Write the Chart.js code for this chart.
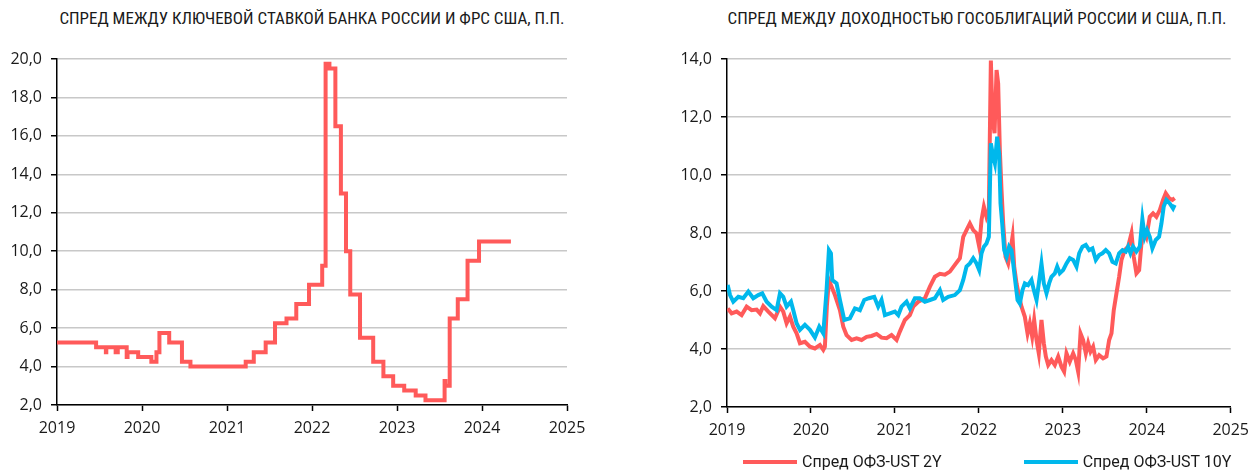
<!DOCTYPE html>
<html lang="ru">
<head>
<meta charset="utf-8">
<title>Спреды Россия - США</title>
<script src="https://cdn.jsdelivr.net/npm/chart.js@4.4.1/dist/chart.umd.min.js"></script>
<style>
  html, body { margin: 0; padding: 0; background: #fff; }
  body { width: 1257px; height: 473px; position: relative; overflow: hidden;
         font-family: "Open Sans", Roboto, sans-serif; color: #1a1a1a; }
  .box { position: absolute; top: 0; height: 473px; }
  #leftBox { left: 0; width: 620px; }
  #rightBox { left: 640px; width: 617px; }
  .title { position: absolute; top: 9px; font-size: 17px; line-height: 19px; white-space: nowrap;
           font-family: "Liberation Sans Narrow", "Roboto Condensed", Roboto, sans-serif;
           transform: translateX(-50%); }
  #leftTitle { left: 312px; }
  #rightTitle { left: 977px; }
  #legend { position: absolute; left: 743px; top: 452px; display: flex; gap: 82px;
            font-family: Roboto, sans-serif; font-size: 16px; line-height: 20px; }
  .item { display: flex; align-items: center; }
  .swatch { width: 54px; height: 4px; margin-right: 5px; }
</style>
</head>
<body>
<div id="leftTitle" class="title">СПРЕД МЕЖДУ КЛЮЧЕВОЙ СТАВКОЙ БАНКА РОССИИ И ФРС США, П.П.</div>
<div id="rightTitle" class="title">СПРЕД МЕЖДУ ДОХОДНОСТЬЮ ГОСОБЛИГАЦИЙ РОССИИ И США, П.П.</div>
<div id="leftBox" class="box"><canvas id="rateChart"></canvas></div>
<div id="rightBox" class="box"><canvas id="bondChart"></canvas></div>
<div id="legend"></div>

<script>
// ---- data ----
const yearTicks = [2019, 2020, 2021, 2022, 2023, 2024, 2025];

// key rate spread, change dates as fractions of a year
const rateDates = [2019.0, 2019.46, 2019.575, 2019.58, 2019.69, 2019.715, 2019.82, 2019.83, 2019.955,
  2020.11, 2020.17, 2020.205, 2020.32, 2020.47, 2020.57, 2021.22, 2021.315, 2021.455, 2021.565,
  2021.70, 2021.815, 2021.965, 2022.12, 2022.16, 2022.205, 2022.275, 2022.34, 2022.40, 2022.45,
  2022.565, 2022.72, 2022.84, 2022.955, 2023.085, 2023.22, 2023.335, 2023.56, 2023.57, 2023.62,
  2023.715, 2023.83, 2023.965, 2024.34];
const rateSpread = [5.25, 5.0, 4.75, 5.0, 4.75, 5.0, 4.5, 4.75, 4.5,
  4.25, 4.75, 5.75, 5.25, 4.25, 4.0, 4.25, 4.75, 5.25, 6.25,
  6.5, 7.25, 8.25, 9.25, 19.75, 19.5, 16.5, 13.0, 10.0, 7.75,
  5.5, 4.25, 3.5, 3.0, 2.75, 2.5, 2.25, 3.25, 3.0, 6.5,
  7.5, 9.5, 10.5, 10.5];

// OFZ - UST 2Y
const ofz2yDates = [2019.008, 2019.055, 2019.115, 2019.174, 2019.234, 2019.293, 2019.353, 2019.393, 2019.432,
  2019.492, 2019.571, 2019.631, 2019.670, 2019.710, 2019.750, 2019.789, 2019.829, 2019.869, 2019.928,
  2019.988, 2020.047, 2020.107, 2020.147, 2020.166, 2020.190, 2020.214, 2020.246, 2020.286, 2020.345,
  2020.385, 2020.424, 2020.484, 2020.544, 2020.603, 2020.663, 2020.722, 2020.782, 2020.841, 2020.901,
  2020.960, 2021.020, 2021.059, 2021.119, 2021.178, 2021.218, 2021.278, 2021.357, 2021.417, 2021.476,
  2021.536, 2021.595, 2021.655, 2021.714, 2021.774, 2021.814, 2021.853, 2021.893, 2021.933, 2021.972,
  2022.004, 2022.032, 2022.060, 2022.091, 2022.119, 2022.143, 2022.163, 2022.187, 2022.211, 2022.230,
  2022.250, 2022.270, 2022.290, 2022.318, 2022.349, 2022.377, 2022.401, 2022.421, 2022.449, 2022.480,
  2022.508, 2022.548, 2022.580, 2022.607, 2022.635, 2022.659, 2022.687, 2022.714, 2022.746, 2022.774,
  2022.798, 2022.826, 2022.865, 2022.905, 2022.945, 2022.984, 2023.016, 2023.044, 2023.083, 2023.123,
  2023.155, 2023.183, 2023.211, 2023.242, 2023.274, 2023.302, 2023.330, 2023.361, 2023.393, 2023.433,
  2023.480, 2023.520, 2023.552, 2023.580, 2023.607, 2023.639, 2023.671, 2023.699, 2023.738, 2023.778,
  2023.818, 2023.845, 2023.877, 2023.909, 2023.937, 2023.964, 2023.996, 2024.036, 2024.075, 2024.115,
  2024.155, 2024.194, 2024.226, 2024.266, 2024.306, 2024.333];
const ofz2y = [5.40, 5.23, 5.29, 5.17, 5.46, 5.34, 5.36, 5.23, 5.48,
  5.29, 5.06, 5.46, 5.29, 4.89, 5.12, 4.77, 4.54, 4.20, 4.25,
  4.08, 4.02, 4.14, 3.97, 4.08, 5.50, 6.38, 6.15, 5.86, 5.34,
  4.77, 4.48, 4.31, 4.37, 4.31, 4.42, 4.45, 4.52, 4.39, 4.37,
  4.48, 4.31, 4.60, 5.00, 5.17, 5.46, 5.63, 5.75, 6.15, 6.49,
  6.59, 6.56, 6.67, 6.90, 7.13, 7.87, 8.10, 8.33, 8.10, 7.99,
  7.53, 8.45, 8.91, 8.56, 8.79, 13.95, 12.00, 11.44, 13.62, 13.16,
  10.86, 9.48, 8.33, 7.18, 6.95, 7.41, 7.87, 6.84, 6.26, 5.80,
  5.46, 5.11, 4.54, 4.89, 4.43, 5.00, 4.31, 3.85, 5.00, 4.20,
  3.74, 3.45, 3.62, 3.45, 3.74, 3.39, 3.22, 3.85, 3.56, 3.85,
  3.62, 3.22, 4.54, 4.31, 3.85, 4.20, 3.91, 4.08, 3.62, 3.79,
  3.68, 3.74, 4.31, 4.54, 5.34, 5.92, 6.49, 7.07, 7.41, 7.53,
  7.99, 7.18, 6.61, 6.72, 7.64, 8.10, 7.87, 8.56, 8.68, 8.56,
  8.79, 9.14, 9.37, 9.20, 9.14, 9.20];

// OFZ - UST 10Y
const ofz10yDates = [2019.008, 2019.036, 2019.075, 2019.135, 2019.194, 2019.254, 2019.313, 2019.373, 2019.420,
  2019.472, 2019.532, 2019.591, 2019.631, 2019.670, 2019.710, 2019.762, 2019.789, 2019.829, 2019.869,
  2019.928, 2019.988, 2020.047, 2020.099, 2020.147, 2020.186, 2020.214, 2020.238, 2020.254, 2020.305,
  2020.345, 2020.397, 2020.464, 2020.524, 2020.583, 2020.635, 2020.690, 2020.754, 2020.801, 2020.841,
  2020.881, 2020.940, 2021.000, 2021.040, 2021.079, 2021.139, 2021.178, 2021.238, 2021.297, 2021.357,
  2021.417, 2021.476, 2021.536, 2021.575, 2021.635, 2021.714, 2021.774, 2021.814, 2021.853, 2021.893,
  2021.933, 2021.972, 2022.004, 2022.032, 2022.060, 2022.091, 2022.119, 2022.143, 2022.171, 2022.191,
  2022.218, 2022.242, 2022.258, 2022.278, 2022.302, 2022.330, 2022.361, 2022.389, 2022.409, 2022.437,
  2022.461, 2022.488, 2022.520, 2022.548, 2022.587, 2022.627, 2022.655, 2022.687, 2022.714, 2022.746,
  2022.774, 2022.806, 2022.837, 2022.865, 2022.905, 2022.933, 2022.964, 2023.004, 2023.044, 2023.083,
  2023.123, 2023.163, 2023.195, 2023.234, 2023.274, 2023.314, 2023.353, 2023.393, 2023.433, 2023.472,
  2023.512, 2023.552, 2023.591, 2023.631, 2023.671, 2023.711, 2023.750, 2023.778, 2023.806, 2023.837,
  2023.877, 2023.917, 2023.948, 2023.976, 2024.004, 2024.036, 2024.067, 2024.107, 2024.147, 2024.175,
  2024.202, 2024.234, 2024.274, 2024.313, 2024.333];
const ofz10y = [6.21, 5.86, 5.63, 5.80, 5.75, 5.98, 5.75, 5.86, 5.92,
  5.63, 5.46, 5.34, 5.92, 5.80, 5.46, 5.63, 5.34, 4.89, 4.66,
  4.83, 4.66, 4.40, 4.77, 4.54, 6.03, 7.41, 7.30, 6.38, 6.26,
  5.69, 5.00, 5.06, 5.40, 5.34, 5.69, 5.75, 5.80, 5.46, 5.69,
  5.17, 5.23, 5.29, 5.17, 5.46, 5.63, 5.40, 5.75, 5.75, 5.63,
  5.69, 5.75, 6.03, 5.69, 5.80, 5.86, 6.03, 6.38, 6.84, 6.95,
  7.13, 6.95, 6.72, 7.30, 7.53, 7.64, 7.87, 11.09, 10.63, 10.40,
  11.32, 10.72, 9.02, 8.33, 7.41, 7.18, 7.53, 7.41, 6.95, 6.26,
  5.69, 5.57, 6.03, 6.26, 6.20, 6.38, 6.03, 5.69, 6.26, 6.95,
  6.26, 5.92, 6.26, 6.49, 6.61, 6.84, 6.61, 6.72, 6.95, 7.13,
  7.07, 6.84, 7.30, 7.53, 7.59, 7.41, 7.47, 7.07, 7.24, 7.30,
  7.41, 7.30, 7.01, 6.95, 7.30, 7.41, 7.36, 7.53, 7.30, 7.53,
  7.36, 7.53, 8.48, 7.87, 8.10, 7.87, 7.47, 7.76, 7.87, 8.33,
  8.91, 9.14, 9.02, 8.85, 8.97];

const seriesLabels = ['Спред ОФЗ-UST 2Y', 'Спред ОФЗ-UST 10Y'];
const seriesColors = ['#ff5a5a', '#00b8ec'];

// ---- helpers ----
const TEXT = '#1a1a1a';
const tickFont = { family: '"Open Sans", Roboto, sans-serif', size: 16 };

function toPoints(xs, ys) {
  return xs.map((x, i) => ({ x: x, y: ys[i] }));
}

function commaFmt(v) {
  return v.toFixed(1).replace('.', ',');
}

function makeScales(yMax, yWidth) {
  return {
    x: {
      type: 'linear', min: 2019, max: 2025,
      afterBuildTicks: (s) => { s.ticks = yearTicks.map(v => ({ value: v })); },
      afterFit: (s) => { s.height = 40; },
      grid: { drawOnChartArea: false, drawTicks: true, tickLength: 6, tickColor: '#000', tickWidth: 1.5 },
      border: { color: '#000', width: 1.5 },
      ticks: { color: TEXT, font: tickFont, padding: 8, maxRotation: 0,
               callback: (v) => String(v) }
    },
    y: {
      min: 2, max: yMax,
      afterFit: (s) => { s.width = yWidth; },
      grid: { color: '#c8c8c8', lineWidth: 1.5, tickLength: 6, tickColor: '#000', tickWidth: 1.5 },
      border: { color: '#000', width: 1.5 },
      ticks: { stepSize: 2, color: TEXT, font: tickFont, padding: 9, callback: (v) => commaFmt(v) }
    }
  };
}

const baseOptions = {
  responsive: true,
  maintainAspectRatio: false,
  animation: false,
  plugins: { legend: { display: false }, tooltip: { enabled: false }, title: { display: false } },
  elements: { point: { radius: 0 }, line: { borderWidth: 4, tension: 0, borderCapStyle: 'butt' } }
};

// ---- left chart: key rate spread ----
new Chart(document.getElementById('rateChart'), {
  type: 'line',
  data: {
    datasets: [{
      data: toPoints(rateDates, rateSpread),
      borderColor: seriesColors[0],
      stepped: true
    }]
  },
  options: {
    ...baseOptions,
    layout: { padding: { top: 59, bottom: 28, left: 0, right: 53 } },
    scales: makeScales(20, 57)
  }
});

// ---- right chart: government bond yield spreads ----
new Chart(document.getElementById('bondChart'), {
  type: 'line',
  data: {
    datasets: [
      { label: seriesLabels[0], data: toPoints(ofz2yDates, ofz2y), borderColor: seriesColors[0], order: 1 },
      { label: seriesLabels[1], data: toPoints(ofz10yDates, ofz10y), borderColor: seriesColors[1], order: 0 }
    ]
  },
  options: {
    ...baseOptions,
    layout: { padding: { top: 59, bottom: 26, left: 0, right: 26 } },
    scales: makeScales(14, 87)
  }
});

// legend below the right chart
const legend = document.getElementById('legend');
seriesLabels.forEach((label, i) => {
  const item = document.createElement('div');
  item.className = 'item';
  item.innerHTML = `<span class="swatch" style="background:${seriesColors[i]}"></span><span>${label}</span>`;
  legend.appendChild(item);
});
</script>
</body>
</html>
